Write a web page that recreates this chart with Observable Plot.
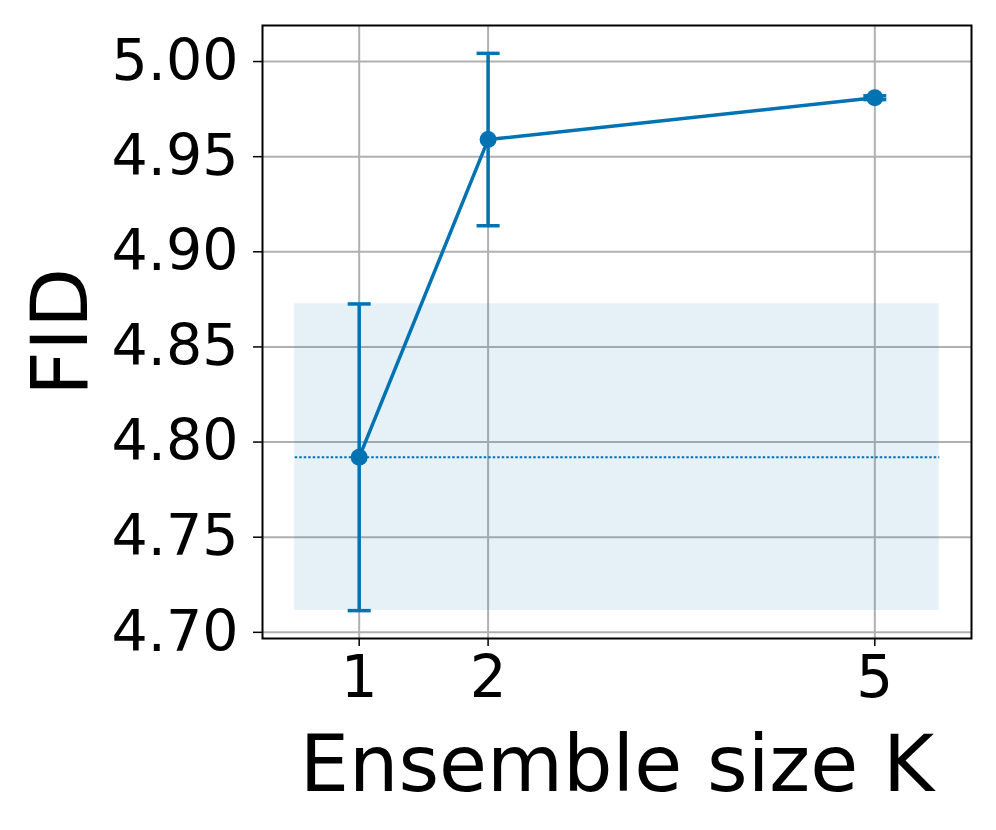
<!DOCTYPE html>
<html>
<head>
<meta charset="utf-8">
<script src="https://cdn.jsdelivr.net/npm/d3@7"></script>
<script src="https://cdn.jsdelivr.net/npm/@observablehq/plot@0.6"></script>
<style>
  html, body { margin: 0; padding: 0; background: #fff; }
  #chart svg { display: block; }
</style>
</head>
<body>
<div id="chart"></div>
<script>
// ---- data ----
const ensembleSize = [1, 2, 5];
const fidMean = [4.792, 4.959, 4.981];
const fidErr = [0.0806, 0.0453, 0.001];

// baseline (K = 1) reference band
const baselineMean = 4.792;
const baselineLow = 4.7115;
const baselineHigh = 4.8727;
const bandStart = 0.5;
const bandEnd = 5.5;

const xTicks = [1, 2, 5];
const yTicks = [4.70, 4.75, 4.80, 4.85, 4.90, 4.95, 5.00];

const xLabel = "Ensemble size K";
const yLabel = "FID";

// ---- build table ----
const rows = ensembleSize.map((k, i) => ({
  k, mean: fidMean[i], lo: fidMean[i] - fidErr[i], hi: fidMean[i] + fidErr[i]
}));
const band = [{x1: bandStart, x2: bandEnd, y1: baselineLow, y2: baselineHigh}];
const baseRule = [{x1: bandStart, x2: bandEnd, y: baselineMean}];

const blue = "#0173b2";
const FONT = "DejaVu Sans, sans-serif";

const capSymbol = {
  draw(context, size) {
    const r = Math.sqrt(size / Math.PI);
    context.moveTo(-r, 0);
    context.lineTo(r, 0);
  }
};

// matplotlib-like 5% margins
const allY = [...rows.map(d => d.lo), ...rows.map(d => d.hi), baselineLow, baselineHigh];
const yMin = d3.min(allY), yMax = d3.max(allY);
const yPad = (yMax - yMin) * 0.05;
const xMin = bandStart, xMax = bandEnd;
const xPad = (xMax - xMin) * 0.05;

const chart = Plot.plot({
  width: 996,
  height: 830,
  marginLeft: 262,
  marginRight: 25,
  marginTop: 25,
  marginBottom: 192,
  style: { fontFamily: FONT, background: "#fff", color: "#000" },
  x: { type: "linear", domain: [xMin - xPad, xMax + xPad] },
  y: { type: "linear", domain: [yMin - yPad, yMax + yPad] },
  marks: [
    Plot.gridX(xTicks, { stroke: "#b0b0b0", strokeOpacity: 1, strokeWidth: 2 }),
    Plot.gridY(yTicks, { stroke: "#b0b0b0", strokeOpacity: 1, strokeWidth: 2 }),
    Plot.rect(band, { x1: "x1", x2: "x2", y1: "y1", y2: "y2", fill: blue, fillOpacity: 0.1 }),
    Plot.link(baseRule, { x1: "x1", x2: "x2", y1: "y", y2: "y", stroke: blue, strokeWidth: 2, strokeDasharray: "2.5,2" }),
    Plot.ruleX(rows, { x: "k", y1: "lo", y2: "hi", stroke: blue, strokeWidth: 3.5 }),
    Plot.dot(rows, { x: "k", y: "lo", symbol: capSymbol, r: 11.5, stroke: blue, strokeWidth: 3.5, fill: "none" }),
    Plot.dot(rows, { x: "k", y: "hi", symbol: capSymbol, r: 11.5, stroke: blue, strokeWidth: 3.5, fill: "none" }),
    Plot.line(rows, { x: "k", y: "mean", stroke: blue, strokeWidth: 3.5 }),
    Plot.dot(rows, { x: "k", y: "mean", r: 8.5, fill: blue, stroke: "none" }),
    Plot.axisX({ ticks: xTicks, tickFormat: d => String(d), tickSize: 8, tickPadding: 9, fontSize: 58, label: null, stroke: "#000", strokeWidth: 1.5 }),
    Plot.axisY({ ticks: yTicks, tickFormat: d3.format(".2f"), tickSize: 9, tickPadding: 15, fontSize: 57, label: null, stroke: "#000", strokeWidth: 1.5 }),
    Plot.frame({ stroke: "#000", strokeWidth: 2 }),
    Plot.text([xLabel], { frameAnchor: "bottom", dy: 128, text: d => d, fontSize: 78, lineAnchor: "middle", textAnchor: "middle", fill: "#000" }),
    Plot.text([yLabel], { frameAnchor: "left", dx: -200, rotate: -90, text: d => d, fontSize: 78, lineAnchor: "middle", textAnchor: "middle", fill: "#000" })
  ]
});
document.getElementById("chart").appendChild(chart);
</script>
</body>
</html>
